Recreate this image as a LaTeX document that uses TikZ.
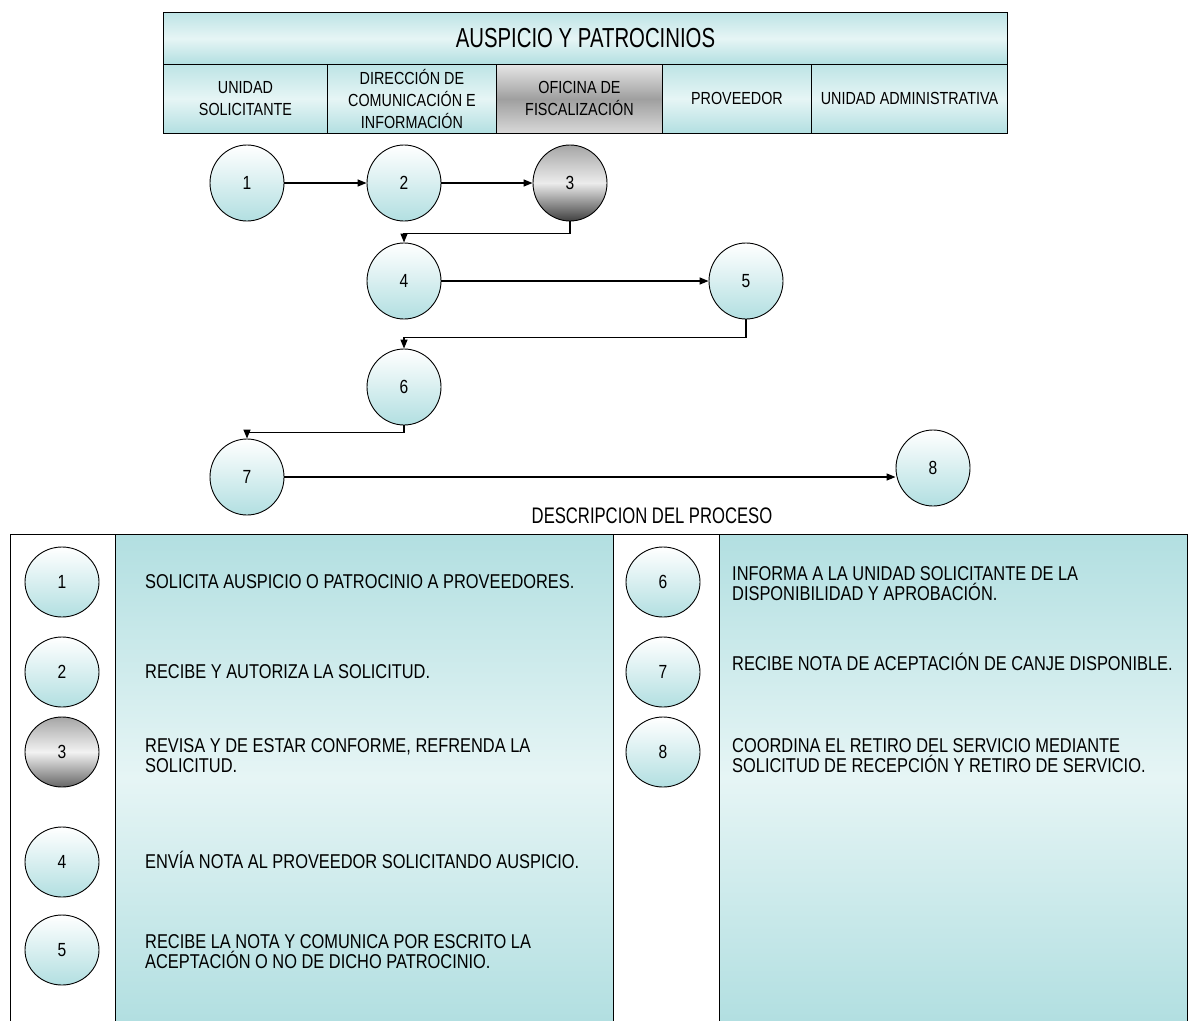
\documentclass[tikz,border=0pt]{standalone}
\usepackage{fontspec}
\setmainfont[FakeStretch=0.82]{Liberation Sans}
\newfontfamily\narrowf[FakeStretch=0.74]{Liberation Sans}
\usetikzlibrary{shapes.geometric,arrows.meta,calc}
\definecolor{tealA}{RGB}{178,223,225}
\definecolor{tealB}{RGB}{230,245,245}
\begin{document}
\begin{tikzpicture}[x=1pt,y=-1pt,
  flowc/.style={ellipse, draw, line width=0.9pt, minimum width=74pt, minimum height=76pt, inner sep=0pt,
    top color=white, bottom color=tealA, font=\fontsize{19}{19}\selectfont},
  darkc/.style={flowc, top color=gray!70, bottom color=black!75, middle color=gray!15},
  descc/.style={flowc, minimum width=74pt, minimum height=70pt},
  darkd/.style={descc, top color=gray!70, bottom color=black!60, middle color=gray!10},
  hcell/.style={draw, line width=0.9pt, anchor=north west, minimum height=69pt, inner sep=0pt, align=center,
    top color=tealA!85, bottom color=tealA, middle color=tealB,
    font=\fontsize{17.5}{22}\selectfont},
  darkcell/.style={hcell, top color=gray!20, bottom color=gray!30, middle color=gray!75},
  desc/.style={anchor=west, align=left, inner sep=0pt, font=\fontsize{20}{20}\selectfont},
  arr/.style={line width=1.3pt, -{Triangle[length=9pt,width=7pt]}}
]
\useasboundingbox (0,0) rectangle (1188,1020);
% header
\node[hcell, minimum width=844pt, minimum height=52pt, font=\narrowf\fontsize{27.5}{27}\selectfont] (title) at (163,12) {AUSPICIO Y PATROCINIOS};
\node[hcell, minimum width=164pt] (h1) at (163,64) {UNIDAD\\SOLICITANTE};
\node[hcell, minimum width=169pt] (h2) at (327,64) {DIRECCIÓN DE\\COMUNICACIÓN E\\INFORMACIÓN};
\node[darkcell, minimum width=166pt] (h3) at (496,64) {OFICINA DE\\FISCALIZACIÓN};
\node[hcell, minimum width=149pt] (h4) at (662,64) {PROVEEDOR};
\node[hcell, minimum width=196pt] (h5) at (811,64) {UNIDAD ADMINISTRATIVA};
% flow
\node[flowc] (c1) at (247,183) {1};
\node[flowc] (c2) at (404,183) {2};
\node[darkc] (c3) at (570,183) {3};
\node[flowc] (c4) at (404,281) {4};
\node[flowc] (c5) at (746,281) {5};
\node[flowc] (c6) at (404,387) {6};
\node[flowc] (c7) at (247,477) {7};
\node[flowc] (c8) at (933,468) {8};
\draw[arr] (c1) -- (c2);
\draw[arr] (c2) -- (c3);
\draw[arr] (c3.south) -- ++(0,12) -| (c4.north);
\draw[arr] (c4) -- (c5);
\draw[arr] (c5.south) -- ++(0,18) -| (c6.north);
\draw[arr] (c6.south) -- ++(0,7) -| (c7.north);
\draw[arr] (c7.east) -- (c7.east -| c8.west);
% description
\node[font=\narrowf\fontsize{22.5}{22}\selectfont] (dtitle) at (652,516) {DESCRIPCION DEL PROCESO};
\shade[top color=tealA, bottom color=tealA, middle color=tealB] (115,534) rectangle (613,1020);
\shade[top color=tealA, bottom color=tealA, middle color=tealB] (719,534) rectangle (1187,1020);
\draw[line width=1pt] (10,1022) -- (10,534) -- (1187,534) -- (1187,1022);
\draw[line width=1pt] (115,534) -- (115,1022) (613,534) -- (613,1022) (719,534) -- (719,1022);
\node[descc] (d1) at (62,582) {1};
\node[descc] (d2) at (62,672) {2};
\node[darkd] (d3) at (62,752) {3};
\node[descc] (d4) at (62,862) {4};
\node[descc] (d5) at (62,950) {5};
\node[descc] (d6) at (663,582) {6};
\node[descc] (d7) at (663,672) {7};
\node[descc] (d8) at (663,752) {8};
\node[desc] (t1) at (145,582) {SOLICITA AUSPICIO O PATROCINIO A PROVEEDORES.};
\node[desc] (t2) at (145,672) {RECIBE Y AUTORIZA LA SOLICITUD.};
\node[desc] (t3) at (145,756) {REVISA Y DE ESTAR CONFORME, REFRENDA LA\\SOLICITUD.};
\node[desc] (t4) at (145,860) {ENVÍA NOTA AL PROVEEDOR SOLICITANDO AUSPICIO.};
\node[desc] (t5) at (145,952) {RECIBE LA NOTA Y COMUNICA POR ESCRITO LA\\ACEPTACIÓN O NO DE DICHO PATROCINIO.};
\node[desc] (t6) at (732,584) {INFORMA A LA UNIDAD SOLICITANTE DE LA\\DISPONIBILIDAD Y APROBACIÓN.};
\node[desc] (t7) at (732,662) {RECIBE NOTA DE ACEPTACIÓN DE CANJE DISPONIBLE.};
\node[desc] (t8) at (732,756) {COORDINA EL RETIRO DEL SERVICIO MEDIANTE\\SOLICITUD DE RECEPCIÓN Y RETIRO DE SERVICIO.};
\end{tikzpicture}
\end{document}
